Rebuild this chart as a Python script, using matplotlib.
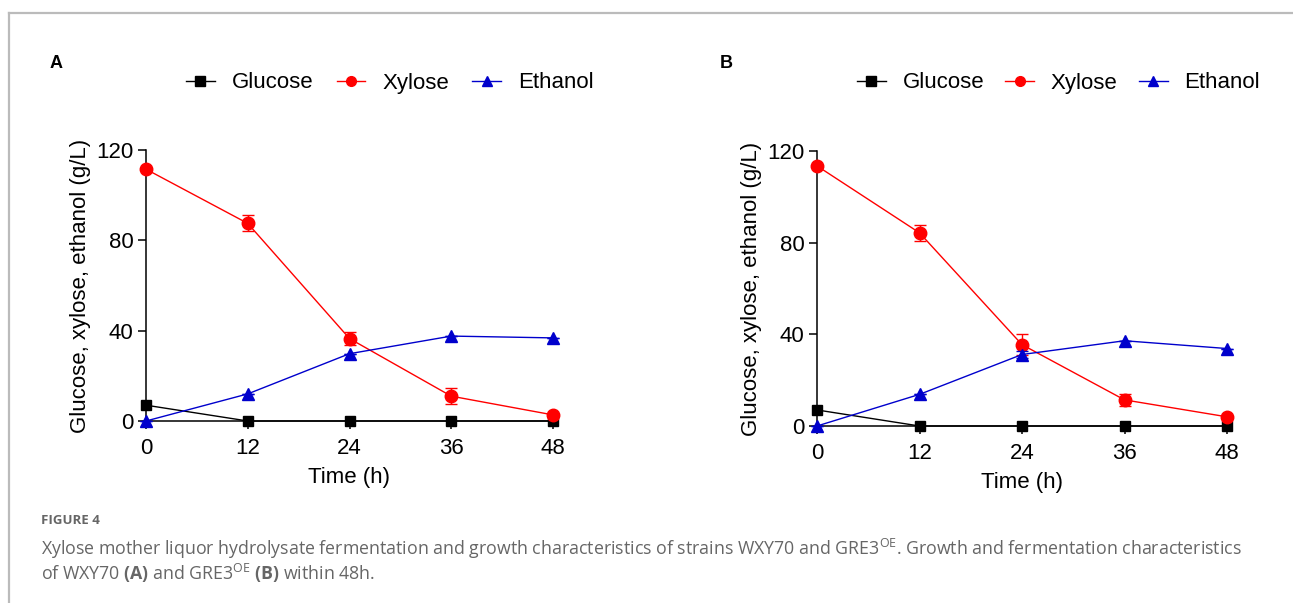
import numpy as np
import matplotlib
matplotlib.use('Agg')
import matplotlib.pyplot as plt
from matplotlib.lines import Line2D

plt.rcParams['font.family'] = ['Liberation Sans', 'DejaVu Sans']
plt.rcParams['mathtext.fontset'] = 'custom'
plt.rcParams['mathtext.rm'] = 'Open Sans'
plt.rcParams['mathtext.bf'] = 'Open Sans:bold'

time_h = [0, 12, 24, 36, 48]

# panel A (WXY70)
glucose_a = [7.0, 0, 0, 0, 0]
xylose_a = [111.5, 87.5, 36.5, 11.0, 2.7]
xylose_a_err = [0, 3.5, 3.0, 3.5, 0]
ethanol_a = [0, 12.0, 29.8, 37.6, 36.8]
ethanol_a_err = [0, 0, 0, 0, 0]

# panel B (GRE3OE)
glucose_b = [7.0, 0, 0, 0, 0]
xylose_b = [113.5, 84.3, 35.5, 11.4, 4.0]
xylose_b_err = [0, 3.5, 4.5, 2.5, 0]
ethanol_b = [0, 13.8, 31.2, 37.2, 33.8]
ethanol_b_err = [0, 0, 1.5, 0, 0]

series_names = ['Glucose', 'Xylose', 'Ethanol']
y_ticks = [0, 40, 80, 120]

RED = '#ff0000'
BLUE = '#0000cc'
COLORS = ['black', RED, BLUE]
MARKERS = ['s', 'o', '^']

fig = plt.figure(figsize=(12.93, 6.03), dpi=100)

# figure frame lines (gray)
fig.add_artist(Line2D([9/1293, 1], [1-13/603, 1-13/603], color='#bbbbbb', lw=1.6))
fig.add_artist(Line2D([9/1293, 9/1293], [0, 1-13/603], color='#bbbbbb', lw=1.6))


def panel(rect, glc, xyl, xyl_err, eth, eth_err, letter, letter_xy, leg_xy, colsp):
    ax = fig.add_axes(rect)
    ax.plot(time_h, glc, '-', color='black', lw=1.0, marker='s', ms=7.5,
            clip_on=False, zorder=3)
    ax.errorbar(time_h, xyl, yerr=xyl_err, fmt='-o', color=RED, lw=1.0, ms=9,
                elinewidth=1.0, capsize=4, capthick=1.0, clip_on=False, zorder=4)
    ax.errorbar(time_h, eth, yerr=eth_err, fmt='-^', color=BLUE, lw=1.0, ms=8.5,
                elinewidth=1.0, capsize=4, capthick=1.0, clip_on=False, zorder=5)
    ax.set_xlim(0, 48)
    ax.set_ylim(0, 120)
    ax.set_xticks(time_h)
    ax.set_yticks(y_ticks)
    for s in ['top', 'right']:
        ax.spines[s].set_visible(False)
    for s in ['left', 'bottom']:
        ax.spines[s].set_linewidth(1.1)
    ax.tick_params(labelsize=16, width=1.1, length=6, pad=3)
    ax.tick_params(axis='x', pad=6)
    ax.set_xlabel('Time (h)', fontsize=16, labelpad=6)
    ax.set_ylabel('Glucose, xylose, ethanol (g/L)', fontsize=16, labelpad=4)
    fig.text(letter_xy[0], letter_xy[1], letter, fontsize=13, fontweight='bold',
             ha='left', va='center')
    handles = [Line2D([], [], color=c, lw=1.0, marker=m, ms=7)
               for c, m in zip(COLORS, MARKERS)]
    fig.legend(handles, series_names, loc='center left', bbox_to_anchor=leg_xy, ncol=3,
               frameon=False, fontsize=16, handlelength=1.3, handletextpad=0.75,
               columnspacing=colsp, borderpad=0, borderaxespad=0)
    return ax


panel([146/1293, 1-421/603, 407/1293, 271/603], glucose_a, xylose_a, xylose_a_err,
      ethanol_a, ethanol_a_err, 'A', (50/1293, 1-63/603), (186/1293, 1-83/603), 1.05)
panel([817/1293, 1-426/603, 410/1293, 275/603], glucose_b, xylose_b, xylose_b_err,
      ethanol_b, ethanol_b_err, 'B', (720/1293, 1-63/603), (857/1293, 1-83/603), 0.95)

# caption
fig.text(41/1293, 1-521/603, 'FIGURE 4', fontsize=9.5, color='#666666',
         fontweight='bold', family='Open Sans', va='center')
fig.text(41/1293, 1-549/603,
         r'Xylose mother liquor hydrolysate fermentation and growth characteristics of strains WXY70 and GRE3$^{\mathrm{OE}}$. '
         'Growth and fermentation characteristics',
         fontsize=12.8, color='#666666', family='Open Sans', va='center')
fig.text(41/1293, 1-573/603,
         r'of WXY70 $\mathbf{(A)}$ and GRE3$^{\mathrm{OE}}$ $\mathbf{(B)}$ within 48h.',
         fontsize=12.8, color='#666666', family='Open Sans', va='center')

fig.savefig('out.png', dpi=100)
